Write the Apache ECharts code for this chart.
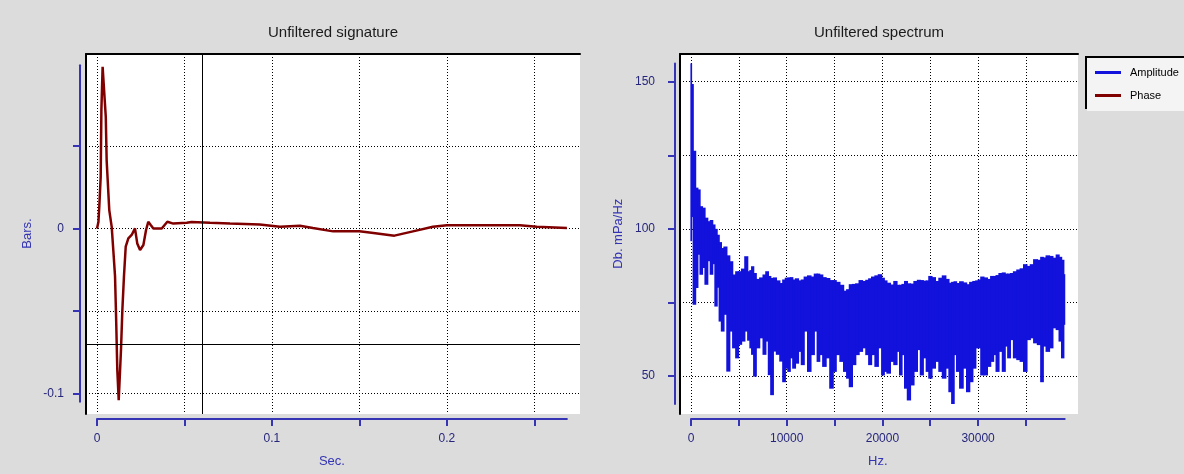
<!DOCTYPE html>
<html>
<head>
<meta charset="utf-8">
<script src="https://cdn.jsdelivr.net/npm/echarts@6/dist/echarts.min.js"></script>
<style>
html, body { margin: 0; padding: 0; background: #dcdcdc; }
#chart { width: 1184px; height: 474px; }
</style>
</head>
<body>
<div id="chart"></div>
<script>
// --- signature (time in s, pressure in bars) ---
const sigTime = [0, 0.0008, 0.0013, 0.0021, 0.0025, 0.0032, 0.0042, 0.005, 0.0055, 0.007,
    0.0084, 0.0093, 0.0103, 0.0109, 0.0116, 0.0124, 0.0131, 0.0137, 0.0145, 0.0154,
    0.0164, 0.0179, 0.0198, 0.0217, 0.023, 0.0246, 0.0265, 0.028, 0.0293, 0.0307,
    0.0322, 0.037, 0.0402, 0.0436, 0.0513, 0.054, 0.0646, 0.076, 0.093, 0.1046,
    0.116, 0.1234, 0.135, 0.150, 0.158, 0.170, 0.1806, 0.192, 0.200, 0.2417,
    0.2514, 0.2686];
const sigValue = [0, 0.004, 0.0132, 0.0314, 0.0718, 0.098, 0.099, 0.0678, 0.0415, 0.0112,
    0.001, -0.013, -0.029, -0.0535, -0.0858, -0.104, -0.105, -0.0736, -0.049, -0.029,
    -0.011, -0.006, -0.0039, 0.0001, -0.009, -0.013, -0.010, -0.001, 0.0041, 0.0021,
    0, 0, 0.0041, 0.003, 0.0035, 0.004, 0.0035, 0.003, 0.0025, 0.0011,
    0.0017, 0.0003, -0.0017, -0.0017, -0.0027, -0.0043, -0.0017, 0.0011, 0.002, 0.002,
    0.0011, 0.0003];
// cursor cross on the signature plot
const cursorTime = 0.0635;
const cursorBars = -0.066;

// --- spectrum (Hz, dB envelope of the amplitude trace) ---
const specHz = [0, 107, 357, 607, 821, 1071, 1321, 1607, 1892, 2142,
    2392, 2606, 2856, 3035, 3320, 3570, 3927, 4177, 4534, 4820,
    5105, 5462, 5784, 6069, 6248, 6426, 6676, 6962, 7390, 7676,
    7961, 8211, 8461, 8747, 9104, 9461, 9718, 10000, 10246, 10493,
    10774, 11056, 11408, 11654, 12006, 12358, 12710, 13062, 13309, 13590,
    13942, 14294, 14717, 14998, 15350, 15773, 16125, 16406, 16688, 17040,
    17392, 17744, 18096, 18448, 18694, 19046, 19398, 19750, 20102, 20294,
    20656, 21018, 21380, 21670, 21923, 22176, 22466, 22756, 23118, 23480,
    23842, 24095, 24457, 24710, 25000, 25362, 25724, 26086, 26448, 26810,
    27100, 27389, 27606, 27896, 28258, 28620, 28982, 29272, 29634, 29887,
    30140, 30430, 30792, 31154, 31480, 31762, 32008, 32360, 32712, 32958,
    33240, 33522, 33874, 34226, 34578, 34930, 35282, 35634, 35986, 36408,
    36690, 36936, 37288, 37640, 37992, 38344, 38590, 38872, 39048];
const specHigh = [156.2, 149.2, 126.5, 114, 113.4, 107.7, 107.2, 103.8, 102.6, 103,
    101.5, 100, 98, 95.5, 93.5, 94, 91, 89, 84.5, 85.6,
    85.6, 86.5, 90.7, 85.6, 86, 87.3, 85, 83, 83.5, 84.5,
    85.6, 84, 83.3, 83.5, 82.5, 81.6, 82.8, 83.4, 83.5, 83.6,
    82.8, 83.2, 82.5, 82.8, 83.8, 84.2, 83.8, 84.8, 84.8, 84.5,
    83.6, 83.3, 82.6, 82.6, 82, 81, 79, 79.5, 81.2, 81.3,
    81.5, 82.6, 82.3, 82.7, 83.2, 83.8, 84.2, 84.6, 83.4, 82.5,
    81.7, 81.1, 82.3, 81, 81, 81.3, 82.3, 81.5, 81.4, 82.3,
    82.7, 82.6, 82.4, 82.5, 84, 83.6, 82.3, 83.4, 84.2, 83,
    81.7, 82, 82.2, 81.6, 82.2, 81.8, 81.2, 82, 82.3, 82.5,
    82.8, 83.8, 83.5, 83, 84, 84, 84.3, 85, 85.2, 84.8,
    84.8, 85, 85.6, 86.2, 86.6, 88, 87.4, 88, 89.7, 89.5,
    90.5, 90.3, 91, 90.8, 90.2, 91.3, 90.5, 89.5, 84.6];
const specLow = [95.8, 104, 74.2, 79.9, 91.2, 84.4, 86.7, 81, 89, 84.4,
    88, 73.6, 80, 68.5, 65.1, 70.8, 51.5, 65.1, 59.4, 56,
    60.6, 61.7, 65.1, 62, 59.4, 57.2, 49.8, 59.4, 62.8, 57.2,
    61.7, 50.3, 43.5, 58.3, 57.2, 54.9, 47.9, 52.5, 51.4, 56,
    52.5, 54.2, 58.2, 53.7, 65.1, 51.4, 57.1, 65.1, 54.8, 57.1,
    53.1, 56, 45.7, 51.4, 57.1, 54.8, 51.4, 49.1, 46.2, 53.7,
    57.1, 58.2, 59.4, 57.1, 53.7, 57.1, 53.1, 59.4, 50.2, 51.4,
    50.8, 54.8, 53.7, 58.2, 50.2, 57.1, 45.7, 41.7, 46.8, 51.4,
    58.8, 50.2, 56, 51.4, 49.1, 52.5, 54.8, 51.4, 49.1, 52.5,
    44.5, 40.5, 57.1, 51.4, 45.7, 52.5, 44.5, 47.9, 52.5, 59.4,
    59.4, 50.2, 50.2, 53.1, 54.8, 57.1, 51.4, 58.2, 51.4, 60,
    56, 62.2, 56, 55.4, 54.8, 51.4, 62.2, 62.8, 61.1, 60.5,
    47.9, 60, 58.2, 59.4, 66.2, 65.6, 61.7, 56, 67.4];

// tick / label values
const sigTicksX = [0, 0.05, 0.1, 0.15, 0.2, 0.25];
const sigLabelsX = [0, 0.1, 0.2];
const sigTicksY = [-0.1, -0.05, 0, 0.05];
const sigLabelsY = [-0.1, 0];
const specTicksX = [0, 5000, 10000, 15000, 20000, 25000, 30000, 35000];
const specLabelsX = [0, 10000, 20000, 30000];
const specTicksY = [50, 75, 100, 125, 150];
const specLabelsY = [50, 100, 150];

// plot boxes (pixels) and the value range they show
const boxL = {left: 86, top: 54, right: 580, bottom: 414, xMin: -0.0063, xMax: 0.2761, yMin: -0.1124, yMax: 0.1058};
const boxR = {left: 680, top: 54, right: 1078, bottom: 414, xMin: -1150, xMax: 40442, yMin: 37.1, yMax: 159.4};

const AXIS_BLUE = '#3434b4';
const LABEL_BLUE = '#26267c';
const SIG_RED = '#800000';
const AMP_BLUE = '#1212dc';

function gx(b, v) { return b.left + (v - b.xMin) / (b.xMax - b.xMin) * (b.right - b.left); }
function gy(b, v) { return b.bottom - (v - b.yMin) / (b.yMax - b.yMin) * (b.bottom - b.top); }

const sigMin = Math.min.apply(null, sigValue);
const sigMax = Math.max.apply(null, sigValue);
const ampMin = Math.min.apply(null, specLow);
const ampMax = Math.max.apply(null, specHigh);
const tEnd = sigTime[sigTime.length - 1];
const hzEnd = specHz[specHz.length - 1];

const gridLine = {show: true, lineStyle: {color: '#000', width: 1, type: [1, 2]}};
const plain = v => String(v);

function mainGrid(b) {
    return {left: b.left, top: b.top, width: b.right - b.left, height: b.bottom - b.top,
        show: true, backgroundColor: '#fff', borderWidth: 0, outerBoundsMode: 'none'};
}
function mainX(i, b, ticks) {
    return {type: 'value', gridIndex: i, position: 'top', min: b.xMin, max: b.xMax,
        axisLine: {show: true, onZero: false, lineStyle: {color: '#000', width: 2}},
        axisTick: {show: false, customValues: ticks},
        axisLabel: {show: false}, splitLine: gridLine};
}
function mainY(i, b, ticks) {
    return {type: 'value', gridIndex: i, position: 'left', min: b.yMin, max: b.yMax,
        axisLine: {show: true, onZero: false, lineStyle: {color: '#000', width: 2}},
        axisTick: {show: false, customValues: ticks},
        axisLabel: {show: false}, splitLine: gridLine};
}
function blueAxis(i, min, max, ticks, labels, name, gap, margin) {
    return {type: 'value', gridIndex: i, min: min, max: max,
        axisLine: {show: true, onZero: false, lineStyle: {color: AXIS_BLUE, width: 2}},
        axisTick: {show: true, length: 7, customValues: ticks, lineStyle: {color: AXIS_BLUE, width: 2}},
        axisLabel: {show: true, customValues: labels, formatter: plain, color: LABEL_BLUE, fontSize: 12, margin: margin},
        splitLine: {show: false},
        name: name, nameLocation: 'middle', nameGap: gap,
        nameTextStyle: {color: AXIS_BLUE, fontSize: 13}};
}
const hidden = i => ({type: 'value', gridIndex: i, show: false, min: 0, max: 1});

const sigData = sigTime.map((t, i) => [t, sigValue[i]]);
const ampData = specHz.map((hz, i) => [hz, specLow[i], specHigh[i]]);
// each column reaches halfway to its neighbours
const ampEdges = specHz.map((hz, i) => [
    i > 0 ? (specHz[i - 1] + hz) / 2 : hz,
    i < specHz.length - 1 ? (hz + specHz[i + 1]) / 2 : hz
]);

const chart = echarts.init(document.getElementById('chart'));
chart.setOption({
    animation: false,
    backgroundColor: '#dcdcdc',
    textStyle: {fontFamily: 'Liberation Sans, Arial, sans-serif'},
    title: [
        {text: 'Unfiltered signature', left: (boxL.left + boxL.right) / 2, top: 25, textAlign: 'center', padding: 0,
            textStyle: {fontSize: 15, fontWeight: 'normal', color: '#1a1a1a'}},
        {text: 'Unfiltered spectrum', left: (boxR.left + boxR.right) / 2, top: 25, textAlign: 'center', padding: 0,
            textStyle: {fontSize: 15, fontWeight: 'normal', color: '#1a1a1a'}}
    ],
    legend: {
        data: ['Amplitude', 'Phase'],
        orient: 'vertical', left: 1087, top: 58,
        icon: 'rect', itemWidth: 26, itemHeight: 3, itemGap: 12,
        textStyle: {fontSize: 11, color: '#000', padding: [0, 0, 0, 4]},
        backgroundColor: '#f4f4f4', padding: [9, 24, 10, 8], borderWidth: 0,
        shadowColor: '#000', shadowBlur: 0, shadowOffsetX: -2, shadowOffsetY: -2
    },
    grid: [
        mainGrid(boxL),
        {left: boxL.left - 6, width: 10, top: gy(boxL, sigMax), height: gy(boxL, sigMin) - gy(boxL, sigMax), outerBoundsMode: 'none'},
        {left: gx(boxL, 0), width: gx(boxL, tEnd) - gx(boxL, 0), top: boxL.bottom + 4, height: 1, outerBoundsMode: 'none'},
        mainGrid(boxR),
        {left: boxR.left - 5, width: 10, top: gy(boxR, ampMax), height: gy(boxR, ampMin) - gy(boxR, ampMax), outerBoundsMode: 'none'},
        {left: gx(boxR, 0), width: gx(boxR, hzEnd) - gx(boxR, 0), top: boxR.bottom + 4, height: 1, outerBoundsMode: 'none'}
    ],
    xAxis: [
        mainX(0, boxL, sigTicksX),
        hidden(1),
        Object.assign(blueAxis(2, 0, tEnd, sigTicksX, sigLabelsX, 'Sec.', 36, 14), {position: 'bottom'}),
        mainX(3, boxR, specTicksX),
        hidden(4),
        Object.assign(blueAxis(5, 0, hzEnd, specTicksX, specLabelsX, 'Hz.', 36, 14), {position: 'bottom'})
    ],
    yAxis: [
        mainY(0, boxL, sigTicksY),
        Object.assign(blueAxis(1, sigMin, sigMax, sigTicksY, sigLabelsY, 'Bars.', 46, 16), {position: 'left'}),
        hidden(2),
        mainY(3, boxR, specTicksY),
        Object.assign(blueAxis(4, ampMin, ampMax, specTicksY, specLabelsY, 'Db. mPa/Hz', 50, 20), {position: 'left'}),
        hidden(5)
    ],
    series: [
        {
            name: 'Signature', type: 'line', xAxisIndex: 0, yAxisIndex: 0,
            data: sigData, showSymbol: false, symbol: 'none', clip: true,
            lineStyle: {color: SIG_RED, width: 2.5}, itemStyle: {color: SIG_RED},
            markLine: {
                silent: true, symbol: ['none', 'none'], label: {show: false},
                lineStyle: {color: '#000', width: 1, type: 'solid'},
                data: [{xAxis: cursorTime}, {yAxis: cursorBars}]
            }
        },
        {
            name: 'Amplitude', type: 'custom', xAxisIndex: 3, yAxisIndex: 3,
            itemStyle: {color: AMP_BLUE}, clip: true,
            data: ampData,
            renderItem: function (params, api) {
                const e = ampEdges[params.dataIndex];
                const p0 = api.coord([e[0], api.value(2)]);
                const p1 = api.coord([e[1], api.value(1)]);
                return {
                    type: 'rect',
                    shape: {x: p0[0] - 0.6, y: p0[1], width: Math.max(p1[0] - p0[0], 0) + 1.2, height: p1[1] - p0[1]},
                    style: {fill: AMP_BLUE}
                };
            }
        },
        {
            name: 'Phase', type: 'line', xAxisIndex: 3, yAxisIndex: 3,
            data: [], showSymbol: false,
            lineStyle: {color: SIG_RED, width: 2}, itemStyle: {color: SIG_RED}
        }
    ]
});
</script>
</body>
</html>
